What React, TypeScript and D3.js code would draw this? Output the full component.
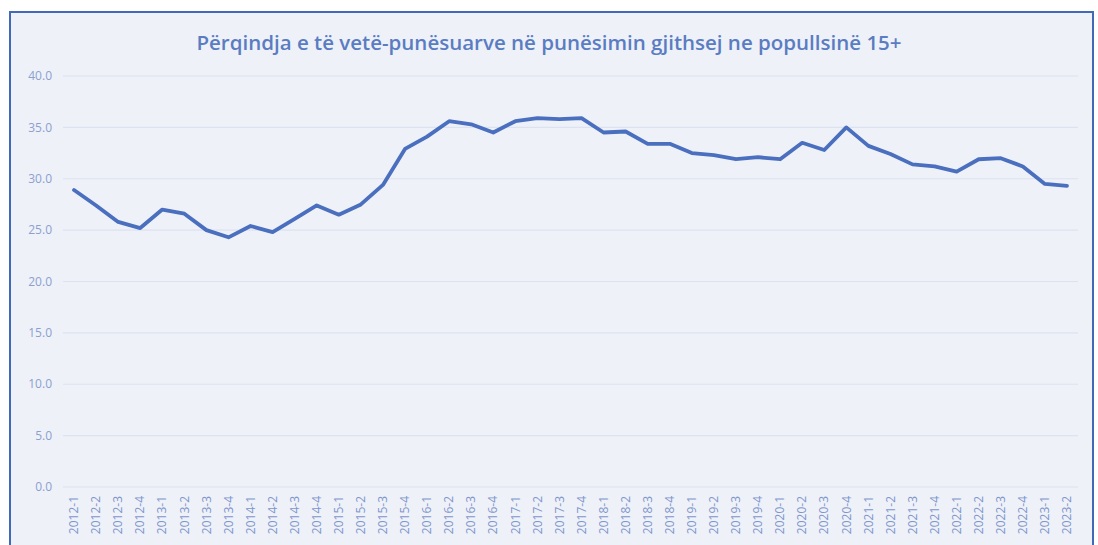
import React, { useEffect, useRef } from 'react'
import * as d3 from 'd3'

const years = ['2012', '2013', '2014', '2015', '2016', '2017', '2018', '2019', '2020', '2021', '2022', '2023']
const periods = years.flatMap((y) => (y === '2023' ? [1, 2] : [1, 2, 3, 4]).map((q) => `${y}-${q}`))

const values = [
  28.9, 27.4, 25.8, 25.2, 27.0, 26.6, 25.0, 24.3, 25.4, 24.8, 26.1, 27.4, 26.5, 27.5, 29.4, 32.9, 34.1, 35.6,
  35.3, 34.5, 35.6, 35.9, 35.8, 35.9, 34.5, 34.6, 33.4, 33.4, 32.5, 32.3, 31.9, 32.1, 31.9, 33.5, 32.8, 35.0,
  33.2, 32.4, 31.4, 31.2, 30.7, 31.9, 32.0, 31.2, 29.5, 29.3,
]

const yTicks = [0, 5, 10, 15, 20, 25, 30, 35, 40]
const title = 'Përqindja e të vetë-punësuarve në punësimin gjithsej ne popullsinë 15+'

const App: React.FC = () => {
  const svgRef = useRef<SVGSVGElement>(null)

  useEffect(() => {
    if (!svgRef.current) return
    const width = 1098
    const height = 545
    const margin = { top: 76, right: 20, bottom: 58, left: 63 }
    const plotRight = 1078

    const svg = d3.select(svgRef.current)
    svg.selectAll('*').remove()
    svg.attr('width', width).attr('height', height)

    // frame
    svg
      .append('rect')
      .attr('x', 10)
      .attr('y', 12)
      .attr('width', 1083)
      .attr('height', 560)
      .attr('fill', '#eef1f8')
      .attr('stroke', '#4169b8')
      .attr('stroke-width', 2)

    const x = d3.scaleBand<string>().domain(periods).range([margin.left, plotRight])
    const y = d3.scaleLinear().domain([0, 40]).range([487, margin.top])

    // grid
    svg
      .append('g')
      .selectAll('line')
      .data(yTicks)
      .join('line')
      .attr('x1', margin.left)
      .attr('x2', plotRight)
      .attr('y1', (d) => y(d))
      .attr('y2', (d) => y(d))
      .attr('stroke', '#dce2f0')
      .attr('stroke-width', 1.2)

    // y labels
    svg
      .append('g')
      .selectAll('text')
      .data(yTicks)
      .join('text')
      .attr('x', 52)
      .attr('y', (d) => y(d))
      .attr('dy', '0.35em')
      .attr('text-anchor', 'end')
      .attr('font-family', 'Open Sans, sans-serif')
      .attr('font-size', 12)
      .attr('fill', '#8ca0d0')
      .text((d) => d.toFixed(1))

    // x labels
    svg
      .append('g')
      .selectAll('text')
      .data(periods)
      .join('text')
      .attr('transform', (d) => `translate(${(x(d) ?? 0) + x.bandwidth() / 2},496) rotate(-90)`)
      .attr('dy', '0.35em')
      .attr('text-anchor', 'end')
      .attr('font-family', 'Open Sans, sans-serif')
      .attr('font-size', 12)
      .attr('fill', '#7f96cc')
      .text((d) => d)

    const line = d3
      .line<number>()
      .x((_, i) => (x(periods[i]) ?? 0) + x.bandwidth() / 2)
      .y((d) => y(d))

    svg
      .append('path')
      .attr('d', line(values))
      .attr('fill', 'none')
      .attr('stroke', '#4a6fbf')
      .attr('stroke-width', 3.8)
      .attr('stroke-linejoin', 'round')
      .attr('stroke-linecap', 'round')

    svg
      .append('text')
      .attr('x', 549)
      .attr('y', 50)
      .attr('text-anchor', 'middle')
      .attr('font-family', 'Open Sans, sans-serif')
      .attr('font-weight', 600)
      .attr('font-size', 20.5)
      .attr('fill', '#5a7cc2')
      .text(title)
  }, [])

  return (
    <div style={{ position: 'fixed', left: 0, top: 0, background: '#fff' }}>
      <svg ref={svgRef} style={{ display: 'block' }}></svg>
    </div>
  )
}

export default App
